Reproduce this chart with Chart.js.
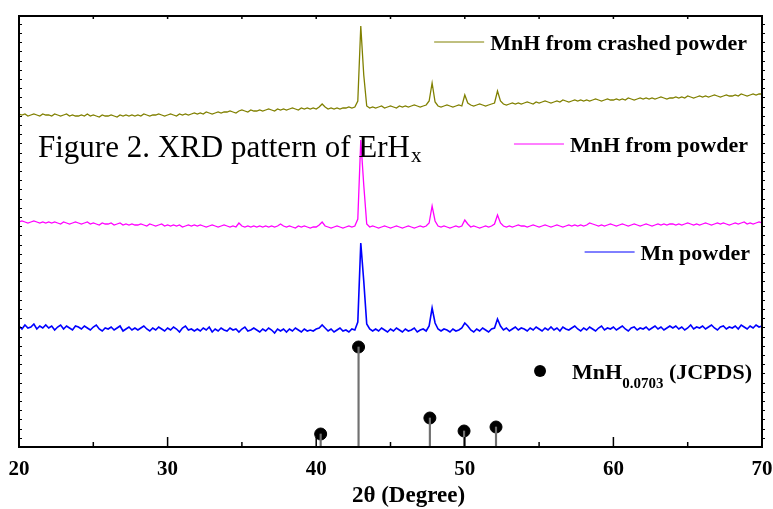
<!DOCTYPE html>
<html>
<head>
<meta charset="utf-8">
<script src="https://cdn.jsdelivr.net/npm/chart.js@4.4.1/dist/chart.umd.min.js"></script>
<style>
  html, body { margin: 0; padding: 0; background: #fff; }
  canvas { display: block; }
</style>
</head>
<body>
<canvas id="xrd" width="773" height="509"></canvas>
<script>
// scan: 20-70 deg, 0.2 deg step
const scanStart = 20, scanStep = 0.2, scanPoints = 251;
const twoTheta = [];
for (let i = 0; i < scanPoints; i++) twoTheta.push(+(scanStart + i * scanStep).toFixed(1));

// stacked intensities (a.u., offset per trace)
const crashedPowder = [
  333,332,333,331,332,333,332,331,333,332,
  332,331,333,332,331,332,333,331,332,331,
  331,332,331,333,331,332,331,330,332,331,
  331,332,331,330,332,331,332,331,332,331,
  332,331,333,332,331,332,332,333,332,331,
  332,333,332,331,333,332,333,332,333,334,
  333,334,333,335,334,333,334,335,334,335,
  335,336,335,334,336,337,336,335,337,336,
  336,337,336,337,338,337,336,338,337,338,
  337,338,339,338,337,339,338,339,338,339,
  338,340,343,340,338,339,338,339,338,339,
  339,340,339,340,346,421,372,341,339,340,
  339,340,341,339,340,341,340,339,341,340,
  341,340,341,342,341,340,341,342,346,364,
  345,341,340,341,342,341,340,341,342,341,
  352,344,342,341,342,343,342,341,342,343,
  344,356,346,343,342,343,344,343,344,343,
  344,345,344,343,345,344,345,346,345,344,
  345,346,345,347,346,345,346,347,346,347,
  346,347,346,347,348,347,346,347,348,347,
  347,348,347,348,347,349,348,347,348,349,
  348,349,348,349,348,349,350,349,348,349,
  349,350,349,350,349,351,350,349,350,351,
  350,351,350,351,352,351,350,351,352,351,
  351,352,351,353,352,351,352,353,352,353,
  353
];
const powder = [
  225,226,225,224,225,226,225,224,225,224,
  225,224,225,224,223,225,224,223,224,225,
  224,223,224,225,223,224,223,222,224,223,
  223,224,222,223,224,222,223,222,223,222,
  222,223,222,221,223,222,221,222,223,221,
  222,221,222,221,222,220,221,222,221,222,
  221,222,221,220,221,222,221,220,221,222,
  221,220,221,220,224,221,220,221,220,221,
  220,221,220,221,220,221,220,221,223,221,
  220,221,220,219,221,220,221,220,219,220,
  220,222,225,221,220,219,220,221,220,219,
  220,221,220,221,228,307,262,223,220,221,
  220,219,220,221,220,219,220,221,220,219,
  220,221,220,219,220,221,220,221,224,241,
  226,221,220,221,220,219,220,221,220,221,
  227,223,220,221,220,219,220,221,220,221,
  223,232,224,221,220,221,220,221,222,221,
  221,220,221,222,221,220,221,222,221,220,
  221,222,221,220,221,222,221,222,221,222,
  221,222,224,223,222,221,222,221,222,223,
  222,221,222,223,222,221,222,223,222,221,
  222,223,222,221,222,223,222,223,222,223,
  223,222,223,222,223,224,223,222,223,222,
  223,224,223,222,223,224,223,224,223,222,
  223,224,223,224,225,223,224,223,224,225,
  224
];
const mnPowder = [
  121,118,122,119,120,123,118,121,119,122,
  119,121,117,120,122,118,121,119,117,121,
  120,118,121,119,117,120,122,118,116,119,
  118,120,117,119,121,116,118,120,117,119,
  117,119,121,118,116,119,117,120,118,116,
  119,117,120,118,115,119,121,117,118,116,
  118,116,119,117,120,115,118,116,119,117,
  116,119,117,118,115,118,120,116,117,119,
  117,115,118,116,119,117,114,118,116,118,
  115,118,116,119,117,115,118,116,117,116,
  118,119,122,119,116,118,115,117,119,116,
  117,115,118,117,125,204,166,123,118,116,
  118,116,119,117,115,118,116,119,117,115,
  118,116,117,119,115,117,118,116,121,139,
  124,118,116,118,117,115,118,116,117,119,
  124,121,117,115,118,116,119,117,115,118,
  119,128,121,117,119,116,118,120,117,119,
  118,116,119,117,120,118,116,119,117,120,
  117,119,116,120,118,117,119,121,118,116,
  119,117,120,118,116,119,121,117,119,118,
  120,117,119,121,118,116,119,120,117,119,
  118,120,117,119,121,118,120,117,119,121,
  119,121,118,120,117,119,122,118,120,119,
  121,118,120,122,119,117,120,121,118,120,
  119,121,118,122,120,118,121,119,122,120,
  121
];

// reference card lines
const jcpdsAngle = [40.3, 42.85, 47.65, 49.95, 52.1];
const jcpdsIntensity = [13, 100, 29, 16, 20];
const jcpdsLabel = ['MnH', '0.0703', ' (JCPDS)'];

const xTicks = [20, 30, 40, 50, 60, 70];

const serif = "'Times New Roman', 'Liberation Serif', serif";
const pts = ys => ys.map((y, i) => ({ x: twoTheta[i], y }));

// frame, inward ticks, legend and captions
const decorations = {
  id: 'decorations',
  afterDraw(chart, args, opts) {
    const { ctx, chartArea: a, scales: { x, y } } = chart;
    const seg = (x1, y1, x2, y2) => { ctx.beginPath(); ctx.moveTo(x1, y1); ctx.lineTo(x2, y2); ctx.stroke(); };
    ctx.save();
    ctx.strokeStyle = '#000';
    ctx.lineWidth = 2;
    ctx.strokeRect(a.left, a.top, a.right - a.left, a.bottom - a.top);

    ctx.lineWidth = 1.5;
    for (let v = x.min; v <= x.max; v += 5) {
      const px = x.getPixelForValue(v);
      seg(px, a.bottom, px, a.bottom - (v % 10 === 0 ? 10 : 5));
      seg(px, a.top, px, a.top + 3);
    }
    ctx.lineWidth = 1;
    for (let v = y.min + opts.yMinor; v < y.max; v += opts.yMinor) {
      const py = Math.round(y.getPixelForValue(v)) + 0.5;
      seg(a.left, py, a.left + 3, py);
      seg(a.right, py, a.right + 3, py);
    }

    // legend
    ctx.textBaseline = 'alphabetic';
    ctx.fillStyle = '#000';
    const big = 'bold 22px ' + serif, small = 'bold 15px ' + serif;
    opts.rows.forEach(row => {
      const ds = chart.data.datasets[row.ds];
      const parts = row.parts || [[ds.label, false]];
      let w = 0;
      parts.forEach(([t, sub]) => { ctx.font = sub ? small : big; w += ctx.measureText(t).width; });
      let tx = row.right - w;
      const start = tx;
      parts.forEach(([t, sub]) => {
        ctx.font = sub ? small : big;
        ctx.fillText(t, tx, row.y + 8 + (sub ? 9 : 0));
        tx += ctx.measureText(t).width;
      });
      if (row.marker === 'dot') {
        ctx.beginPath();
        ctx.arc(start - 32, row.y, 6, 0, Math.PI * 2);
        ctx.fillStyle = ds.pointBackgroundColor;
        ctx.fill();
        ctx.fillStyle = '#000';
      } else {
        ctx.strokeStyle = ds.borderColor;
        ctx.lineWidth = 1;
        seg(start - 56, row.y, start - 6, row.y);
      }
    });

    // caption inside the plot
    ctx.fillStyle = '#000';
    ctx.font = '31px ' + serif;
    ctx.fillText(opts.caption[0], 38, 157);
    const cw = ctx.measureText(opts.caption[0]).width;
    ctx.font = '21px ' + serif;
    ctx.fillText(opts.caption[1], 38 + cw + 1, 162);

    // x axis title
    ctx.font = 'bold 23px ' + serif;
    ctx.textAlign = 'center';
    ctx.fillText('2\u03b8 (Degree)', (a.left + a.right) / 2 + 18, 502);
    ctx.restore();
  }
};

new Chart(document.getElementById('xrd'), {
  type: 'line',
  data: {
    datasets: [
      { label: 'MnH from crashed powder', data: pts(crashedPowder), borderColor: '#808000', borderWidth: 1.3, pointRadius: 0, tension: 0 },
      { label: 'MnH from powder', data: pts(powder), borderColor: '#ff00ff', borderWidth: 1.3, pointRadius: 0, tension: 0 },
      { label: 'Mn powder', data: pts(mnPowder), borderColor: '#0000ff', borderWidth: 1.6, pointRadius: 0, tension: 0 },
      { type: 'bar', label: 'stems', data: jcpdsAngle.map((x, i) => ({ x, y: jcpdsIntensity[i] })), backgroundColor: '#707070', barThickness: 1.5 },
      { label: jcpdsLabel.join(''), data: jcpdsAngle.map((x, i) => ({ x, y: jcpdsIntensity[i] })), showLine: false,
        pointRadius: 6, pointBackgroundColor: '#000', pointBorderColor: '#000', borderColor: '#000' }
    ]
  },
  options: {
    responsive: false,
    animation: false,
    layout: { padding: { left: 19, right: 11, top: 16, bottom: 0 } },
    plugins: {
      legend: { display: false },
      tooltip: { enabled: false },
      decorations: {
        yMinor: 9.2,
        caption: ['Figure 2. XRD pattern of ErH', 'x'],
        rows: [
          { ds: 0, y: 42, right: 747 },
          { ds: 1, y: 144, right: 748 },
          { ds: 2, y: 252, right: 750 },
          { ds: 4, y: 371, right: 752, marker: 'dot', parts: [[jcpdsLabel[0], false], [jcpdsLabel[1], true], [jcpdsLabel[2], false]] }
        ]
      }
    },
    scales: {
      x: {
        type: 'linear', min: 20, max: 70, offset: false,
        afterBuildTicks: s => { s.ticks = xTicks.map(value => ({ value })); },
        afterFit: s => { s.height = 62; s.paddingLeft = 0; s.paddingRight = 0; },
        ticks: { color: '#000', padding: 2, maxRotation: 0, font: { family: serif, size: 21, weight: 'bold' } },
        grid: { display: false },
        border: { display: false }
      },
      y: { type: 'linear', min: 0, max: 431, display: false }
    }
  },
  plugins: [decorations]
});
</script>
</body>
</html>
